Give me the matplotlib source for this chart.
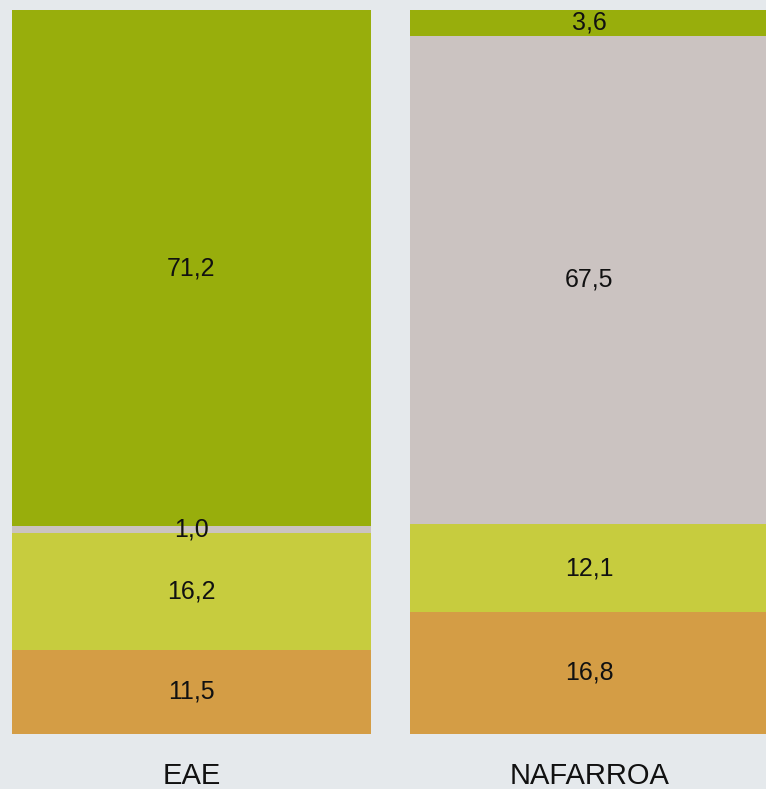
import numpy as np
import matplotlib.pyplot as plt

# -----------------------------
# DATA (percentages, stacked bottom -> top)
# -----------------------------
categories = ["EAE", "NAFARROA"]
seg_orange = [11.5, 16.8]
seg_yellow = [16.2, 12.1]
seg_grey = [1.0, 67.5]
seg_green = [71.2, 3.6]

COLORS = ["#D49D45", "#C7CC3E", "#CBC3C1", "#98AE0C"]
BG = "#E5E9EC"

plt.rcParams["font.family"] = ["Liberation Sans Narrow", "Liberation Sans", "DejaVu Sans"]

fig = plt.figure(figsize=(7.66, 7.89), dpi=100, facecolor=BG)
ax = fig.add_axes([0, 0.0703, 1, 0.9176])
ax.set_facecolor(BG)

x = np.arange(len(categories))
width = 0.902
bottom = np.zeros(len(categories))
for vals, col in zip([seg_orange, seg_yellow, seg_grey, seg_green], COLORS):
    vals = np.asarray(vals)
    ax.bar(x, vals, width=width, bottom=bottom, color=col, linewidth=0)
    for xi, b, v in zip(x, bottom, vals):
        ax.text(xi, b + v / 2, f"{v:.1f}".replace(".", ","), ha="center", va="center",
                fontsize=18, color="#111111")
    bottom += vals

ax.set_xlim(-0.481, 1.4435)
ax.set_ylim(0, 100)
ax.axis("off")

for xi, lab in zip(x, categories):
    ax.text(xi, -5.8, lab, ha="center", va="center", fontsize=21, color="#111111",
            clip_on=False)

fig.savefig("out.png", dpi=100, facecolor=BG)
